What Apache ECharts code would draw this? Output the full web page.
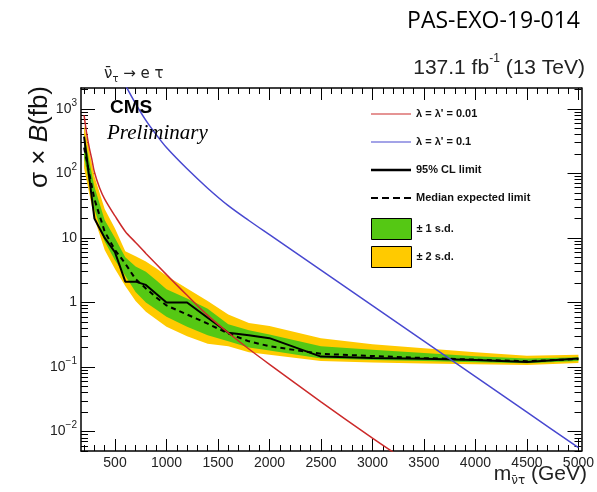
<!DOCTYPE html>
<html><head><meta charset="utf-8">
<script src="https://cdn.jsdelivr.net/npm/echarts@6.0.0/dist/echarts.min.js"></script>
<style>html,body{margin:0;padding:0;background:#fff}#c{width:597px;height:492px}</style>
</head><body><div id="c"></div>
<script>
// ---- data ----
const masses     = [200, 300, 400, 500, 600, 700, 800, 900, 1000, 1200, 1400, 1600, 1800, 2000, 2500, 3000, 3500, 4000, 4500, 5000];
const expected   = [250, 40, 12.5, 6.5, 4.0, 2.3, 1.65, 1.2, 0.9, 0.65, 0.47, 0.33, 0.25, 0.21, 0.16, 0.148, 0.138, 0.13, 0.123, 0.133];
const observed   = [370, 20, 10, 6.0, 2.1, 2.1, 1.87, 1.36, 1.0, 1.0, 0.58, 0.34, 0.31, 0.28, 0.145, 0.138, 0.134, 0.128, 0.12, 0.135];
const sigma1Low  = [175, 28, 8.8, 4.5, 2.6, 1.45, 1.0, 0.78, 0.6, 0.42, 0.31, 0.25, 0.2, 0.18, 0.135, 0.128, 0.124, 0.119, 0.114, 0.124];
const sigma1High = [400, 62, 19, 10, 5.0, 3.6, 3.0, 2.2, 1.6, 1.15, 0.8, 0.46, 0.37, 0.32, 0.21, 0.185, 0.165, 0.147, 0.136, 0.142];
const sigma2Low  = [120, 20, 6.5, 3.3, 1.8, 1.05, 0.72, 0.55, 0.42, 0.3, 0.23, 0.21, 0.17, 0.155, 0.124, 0.117, 0.113, 0.11, 0.107, 0.115];
const sigma2High = [560, 90, 28, 14, 6.2, 5.2, 4.3, 3.4, 2.6, 1.65, 1.05, 0.65, 0.48, 0.43, 0.28, 0.225, 0.195, 0.17, 0.15, 0.155];

const redMass  = [200, 225, 250, 275, 300, 350, 400, 500, 600, 700, 800, 1000, 1200, 1400, 1600, 1800, 2000, 2500, 3000, 3200];
const redXsec  = [794, 417, 251, 166, 105, 60, 40, 21.9, 12.6, 8.5, 5.75, 2.7, 1.29, 0.63, 0.339, 0.19, 0.11, 0.0288, 0.0079, 0.0048];
const blueMass = [600, 700, 800, 900, 1000, 1200, 1400, 1600, 1800, 2000, 2500, 3000, 3500, 4000, 4500, 5000];
const blueXsec = [2344, 1202, 661, 398, 251, 117.5, 58.9, 31.6, 18.6, 11.2, 3.16, 0.891, 0.251, 0.0708, 0.02, 0.00562];

const xMajorTicks = [500, 1000, 1500, 2000, 2500, 3000, 3500, 4000, 4500, 5000];
const xMinorTicks = [];
for (let v = 200; v <= 5000; v += 100) if (v % 500) xMinorTicks.push(v);
const yMajorTicks = [0.01, 0.1, 1, 10, 100, 1000];
const yTickLabels = ['{b|10}{s|−2}', '{b|10}{s|−1}', '{b|1}', '{b|10}', '{b|10}{s|2}', '{b|10}{s|3}'];
const yMinorTicks = [];
for (const d of [0.001, 0.01, 0.1, 1, 10, 100, 1000])
  for (let k = 2; k <= 9; k++) { const v = +(k * d).toPrecision(3); if (v >= 0.005 && v <= 2100) yMinorTicks.push(v); }

const names = {
  red: "λ = λ' = 0.01", blue: "λ = λ' = 0.1", obs: '95% CL limit', exp: 'Median expected limit',
  s1: '± 1 s.d.', s2: '± 2 s.d.'
};

const GREEN = '#55C814', YEL = '#FFCA00', RED = '#CC2A2A', BLUE = '#4848D0';
const FONT = 'Liberation Sans';
const X_MIN = 170, X_MAX = 5030, Y_MIN = 0.005, Y_MAX = 2100;

const pts = (xs, ys) => xs.map((x, i) => [x, ys[i]]);

// legend icons (box 40x14 defined by two invisible corner specks)
const BOX = 'M0,0h0.01v0.01h-0.01Z M39.99,13.99h0.01v0.01h-0.01Z ';
const ICON_THIN = 'path://' + BOX + 'M0,6.4H40V7.6H0Z';
const ICON_THICK = 'path://' + BOX + 'M0,5.8H40V8.2H0Z';
const ICON_DASH = 'path://' + BOX + 'M0,5.9h7v2.2h-7Z M11,5.9h7v2.2h-7Z M22,5.9h7v2.2h-7Z M33,5.9h7v2.2h-7Z';

function xAx(pos, ticks, len, labels, line) {
  return {
    type: 'value', position: pos, min: X_MIN, max: X_MAX,
    splitLine: { show: false },
    axisLine: { show: line, onZero: false, lineStyle: { color: '#000', width: 1.5 } },
    axisTick: { show: true, inside: true, length: len, customValues: ticks, lineStyle: { color: '#000', width: 1 } },
    axisLabel: labels ? { show: true, customValues: xMajorTicks, formatter: v => String(v), fontSize: 14, fontFamily: FONT, color: '#222', margin: 5 } : { show: false }
  };
}
function yAx(pos, ticks, len, labels, line) {
  return {
    type: 'log', logBase: 10, position: pos, min: Y_MIN, max: Y_MAX,
    splitLine: { show: false },
    axisLine: { show: line, onZero: false, lineStyle: { color: '#000', width: 1.5 } },
    axisTick: { show: true, inside: true, length: len, customValues: ticks, lineStyle: { color: '#000', width: 1 } },
    axisLabel: labels ? {
      show: true, customValues: yMajorTicks, margin: 4,
      formatter: v => { const i = yMajorTicks.findIndex(t => Math.abs(Math.log10(t) - Math.log10(v)) < 1e-6); return i >= 0 ? yTickLabels[i] : ''; },
      rich: {
        b: { fontSize: 14, fontFamily: FONT, color: '#222', lineHeight: 22 },
        s: { fontSize: 10, fontFamily: FONT, color: '#222', lineHeight: 10, verticalAlign: 'top' }
      }
    } : { show: false }
  };
}

function bandSeries(name, lo, hi, color, z) {
  return {
    name, type: 'custom', z, silent: true, clip: true,
    itemStyle: { color },
    data: masses.map((m, i) => [m, lo[i], hi[i]]),
    encode: { x: 0, y: [1, 2] },
    renderItem: (params, api) => {
      if (params.dataIndex !== 0) return null;
      const upper = masses.map((m, i) => api.coord([m, hi[i]]));
      const lower = masses.map((m, i) => api.coord([m, lo[i]])).reverse();
      return { type: 'polygon', shape: { points: upper.concat(lower) }, style: { fill: color } };
    }
  };
}

const legendText = { fontSize: 11, fontWeight: 'bold', fontFamily: FONT, color: '#111' };

const option = {
  animation: false,
  backgroundColor: '#fff',
  grid: { left: 81, top: 88, width: 504, height: 363, containLabel: false },
  xAxis: [
    xAx('bottom', xMajorTicks, 12, true, true),
    xAx('bottom', xMinorTicks, 6, false, false),
    xAx('top', xMajorTicks, 12, false, true),
    xAx('top', xMinorTicks, 6, false, false)
  ],
  yAxis: [
    yAx('left', yMajorTicks, 14, true, true),
    yAx('left', yMinorTicks, 7, false, false),
    yAx('right', yMajorTicks, 14, false, true),
    yAx('right', yMinorTicks, 7, false, false)
  ],
  legend: [
    {
      left: 366, top: 102, orient: 'vertical', itemWidth: 40, itemHeight: 14, itemGap: 14, selectedMode: false,
      data: [
        { name: names.red, icon: ICON_THIN, itemStyle: { color: RED, borderWidth: 0 } },
        { name: names.blue, icon: ICON_THIN, itemStyle: { color: BLUE, borderWidth: 0 } },
        { name: names.obs, icon: ICON_THICK, itemStyle: { color: '#000', borderWidth: 0 } },
        { name: names.exp, icon: ICON_DASH, itemStyle: { color: '#000', borderWidth: 0 } }
      ],
      textStyle: legendText
    },
    {
      left: 366, top: 213, orient: 'vertical', itemWidth: 40, itemHeight: 21, itemGap: 6, selectedMode: false,
      data: [
        { name: names.s1, icon: 'rect', itemStyle: { color: GREEN, borderColor: '#000', borderWidth: 1 } },
        { name: names.s2, icon: 'rect', itemStyle: { color: YEL, borderColor: '#000', borderWidth: 1 } }
      ],
      textStyle: legendText
    }
  ],
  series: [
    bandSeries(names.s2, sigma2Low, sigma2High, YEL, 1),
    bandSeries(names.s1, sigma1Low, sigma1High, GREEN, 2),
    { name: names.exp, type: 'line', data: pts(masses, expected), symbol: 'none', itemStyle: { color: '#000' }, lineStyle: { color: '#000', width: 2, type: [5, 4] }, z: 3 },
    { name: names.obs, type: 'line', data: pts(masses, observed), symbol: 'none', itemStyle: { color: '#000' }, lineStyle: { color: '#000', width: 2 }, z: 3 },
    { name: names.red, type: 'line', data: pts(redMass, redXsec), symbol: 'none', smooth: 0.3, itemStyle: { color: RED }, lineStyle: { color: RED, width: 1.5 }, z: 4 },
    { name: names.blue, type: 'line', data: pts(blueMass, blueXsec), symbol: 'none', smooth: 0.3, itemStyle: { color: BLUE }, lineStyle: { color: BLUE, width: 1.5 }, z: 4 }
  ],
  graphic: [
    { type: 'text', z: 100, x: 580, y: 21, style: { text: 'PAS-EXO-19-014', font: '23px "Open Sans"', fill: '#000', align: 'right', verticalAlign: 'middle' } },
    { type: 'text', z: 100, x: 104, y: 74, style: {
        text: '{n|ν\u0304}{s|τ}{n| → e τ}', align: 'left', verticalAlign: 'middle',
        rich: { n: { fontSize: 15, fontFamily: 'DejaVu Sans', fill: '#222', lineHeight: 20 },
                s: { fontSize: 10, fontFamily: 'DejaVu Sans', fill: '#222', lineHeight: 10, verticalAlign: 'bottom' } } } },
    { type: 'text', z: 100, x: 585, y: 68, style: {
        text: '{n|137.1 fb}{s|-1}{n| (13 TeV)}', align: 'right', verticalAlign: 'middle',
        rich: { n: { fontSize: 21, fontFamily: FONT, fill: '#222', lineHeight: 30 },
                s: { fontSize: 12, fontFamily: FONT, fill: '#222', lineHeight: 12, verticalAlign: 'top' } } } },
    { type: 'text', z: 100, x: 110, y: 108, style: { text: 'CMS', font: 'bold 19px "Liberation Sans"', fill: '#000', align: 'left', verticalAlign: 'middle' } },
    { type: 'text', z: 100, x: 107, y: 133, style: { text: 'Preliminary', font: 'italic 21px "Liberation Serif"', fill: '#000', align: 'left', verticalAlign: 'middle' } },
    { type: 'text', z: 100, x: 40, y: 137, rotation: Math.PI / 2, style: {
        text: '{n|σ × }{i|B}{n|(fb)}', align: 'center', verticalAlign: 'middle',
        rich: { n: { fontSize: 26, fontFamily: FONT, fill: '#111' },
                i: { fontSize: 26, fontFamily: FONT, fontStyle: 'italic', fill: '#111' } } } },
    { type: 'text', z: 100, x: 587, y: 474, style: {
        text: '{n|m}{s|ν\u0304τ}{n| (GeV)}', align: 'right', verticalAlign: 'middle',
        rich: { n: { fontSize: 21, fontFamily: FONT, fill: '#222', lineHeight: 26 },
                s: { fontSize: 12, fontFamily: 'DejaVu Sans', fill: '#222', lineHeight: 12, verticalAlign: 'bottom' } } } }
  ]
};

const chart = echarts.init(document.getElementById('c'), null, { renderer: 'canvas' });
chart.setOption(option);
</script></body></html>
